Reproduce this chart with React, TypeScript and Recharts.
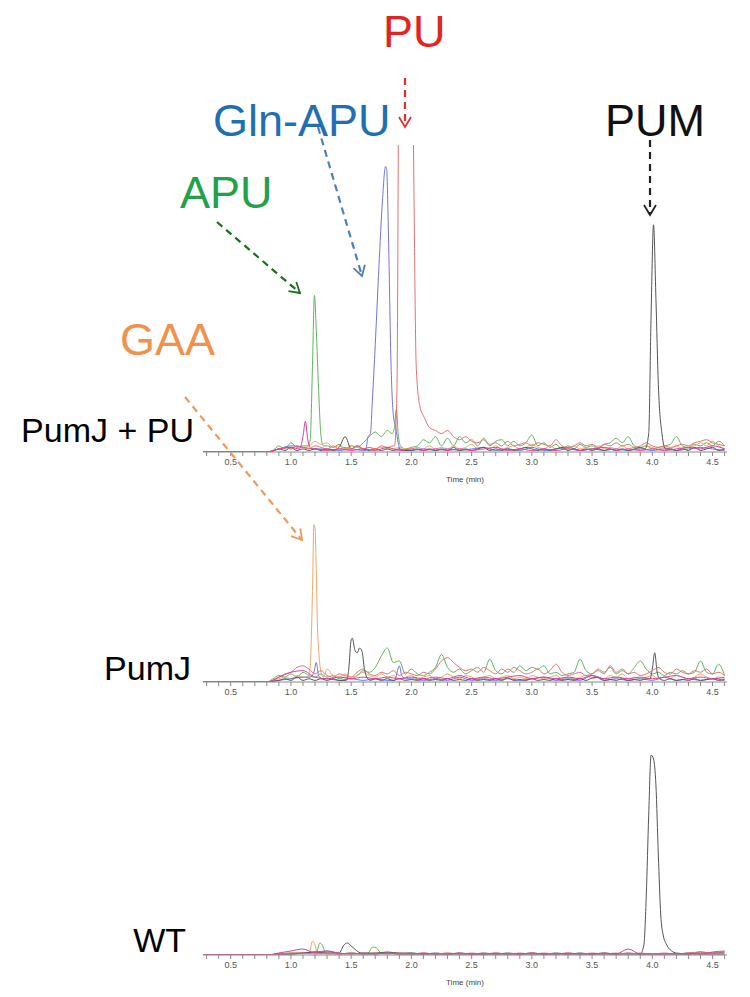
import { Line, LineChart, XAxis, YAxis } from "recharts";

// sampling grids (min)
const TIME_A = [
  0.27, 0.8, 0.85, 0.9, 0.95, 1.0, 1.05, 1.1, 1.15, 1.2,
  1.25, 1.3, 1.35, 1.4, 1.45, 1.5, 1.55, 1.6, 1.65, 1.7,
  1.75, 1.8, 1.85, 1.9, 1.95, 2.0, 2.05, 2.1, 2.15, 2.2,
  2.25, 2.3, 2.35, 2.4, 2.45, 2.5, 2.55, 2.6, 2.65, 2.7,
  2.75, 2.8, 2.85, 2.9, 2.95, 3.0, 3.05, 3.1, 3.15, 3.2,
  3.25, 3.3, 3.35, 3.4, 3.45, 3.5, 3.55, 3.6, 3.65, 3.7,
  3.75, 3.8, 3.85, 3.9, 3.95, 4.0, 4.05, 4.1, 4.15, 4.2,
  4.25, 4.3, 4.35, 4.4, 4.45, 4.5, 4.55, 4.6,
];
const TIME_B = [
  0.27, 0.8, 0.9, 1.0, 1.1, 1.2, 1.3, 1.4, 1.5, 1.6,
  1.7, 1.8, 1.9, 2.0, 2.1, 2.2, 2.3, 2.4, 2.5, 2.6,
  2.7, 2.8, 2.9, 3.0, 3.1, 3.2, 3.3, 3.4, 3.5, 3.6,
  3.7, 3.8, 3.9, 4.0, 4.1, 4.2, 4.3, 4.4, 4.5, 4.6,
];
const TICKS = [
  0.3, 0.4, 0.5, 0.6, 0.7, 0.8, 0.9, 1.0, 1.1, 1.2, 1.3, 1.4, 1.5, 1.6, 1.7,
  1.8, 1.9, 2.0, 2.1, 2.2, 2.3, 2.4, 2.5, 2.6, 2.7, 2.8, 2.9, 3.0, 3.1, 3.2,
  3.3, 3.4, 3.5, 3.6, 3.7, 3.8, 3.9, 4.0, 4.1, 4.2, 4.3, 4.4, 4.5, 4.6,
];

type Peak = { t: number[]; v: number[] };

// ---- PumJ + PU ----
const P1_GREEN = [
  0, 0, 0.5, 2, 1, 3, 1.5, 2, 2, 2,
  2, 2, 1.5, 2.5, 1, 2, 1.5, 3, 5, 6.5,
  5, 7, 8, 2, 1, 1.5, 2, 4, 3, 5,
  2, 4.5, 2, 5, 3, 4, 2, 4.5, 2, 3.5,
  4, 2, 3.5, 2, 3, 5.5, 2, 3, 1.5, 2.5,
  1, 2, 1, 2.5, 1.5, 2, 1, 2.5, 3, 4.5,
  3, 5, 2, 1.5, 2, 1, 1.5, 2, 2.5, 5,
  2, 1.5, 2.5, 2, 3, 2, 3.5, 2,
];
const P1_GREEN_PEAKS: Peak[] = [
  { t: [1.14, 1.16, 1.18, 1.195, 1.21, 1.23, 1.25, 1.27], v: [2, 4, 30, 51, 40, 20, 5, 2] },
  { t: [1.84, 1.86, 1.875, 1.89, 1.91], v: [6, 8, 14, 6, 2] },
];
const P1_RED = [
  0, 0, 0.5, 1, 1.5, 1, 2, 1.5, 1, 2,
  1.5, 1, 2, 1, 1.5, 1, 2, 1, 1.5, 1,
  2, 1.5, 2, 2, 2, 2, 2, 2, 2, 7,
  6, 7, 5, 4, 5, 3.5, 3, 4, 2.5, 3,
  2, 3.5, 2, 2.5, 3, 2, 3, 2.5, 2, 4,
  2, 1.5, 2, 3, 2, 2.5, 1.5, 2.5, 2, 3,
  2, 2.5, 1.5, 2, 3, 2, 1.5, 2, 1.5, 2,
  2.5, 2, 3, 3.5, 4, 3, 2.5, 2,
];
const P1_RED_PEAKS: Peak[] = [
  {
    t: [1.86, 1.88, 1.895, 1.91, 1.94, 1.97, 2.0, 2.02, 2.04, 2.07, 2.11, 2.15],
    v: [2, 20, 130, 220, 260, 240, 170, 90, 28, 15, 11, 8],
  },
];
const P1_BLACK = [
  0, 0, 0.3, 1, 0.5, 1.5, 0.5, 1, 0.5, 1,
  0.5, 1, 0.5, 1.5, 5, 1, 2, 1, 0.5, 1,
  0.5, 1, 0.5, 1, 0.5, 0.5, 1, 0.5, 1, 0.5,
  1, 0.5, 1.5, 0.5, 1, 0.5, 1, 1.5, 0.5, 1,
  0.5, 1, 0.5, 1, 1.5, 1, 0.5, 1, 0.5, 1,
  1.5, 0.5, 1, 0.5, 1, 0.5, 1, 0.5, 1, 0.5,
  1, 0.5, 1, 1.5, 1, 1, 1, 1, 1, 0.5,
  1, 0.5, 1.5, 0.5, 1, 1.5, 0.5, 1,
];
const P1_BLACK_PEAKS: Peak[] = [
  { t: [3.94, 3.97, 3.99, 4.01, 4.03, 4.05, 4.08, 4.11], v: [1, 6, 45, 74, 50, 22, 6, 1] },
];
const P1_ORANGE = [
  0, 0, 0.5, 1, 1.5, 1, 2, 1.5, 2, 3.5,
  2.5, 3, 1.5, 2, 1, 2, 1.5, 1, 1.5, 1,
  1.5, 1, 1, 1.5, 1, 1, 1.5, 1, 2, 1,
  1.5, 1, 2, 1, 1.5, 2.5, 1, 1.5, 1, 2,
  1, 1.5, 2, 1, 1.5, 2.5, 1.5, 1, 2, 1,
  1.5, 1, 2, 1, 1.5, 1, 2, 1, 1.5, 1,
  2, 1, 1.5, 1, 2, 1.5, 1, 1.5, 1, 2,
  1, 1.5, 2, 3, 2, 3.5, 2, 1,
];
const P1_BLUE = [
  0, 0, 1, 2, 1.5, 1, 1, 0.5, 1, 0.5,
  2, 3, 2, 0.5, 1, 0.5, 1, 0.5, 1, 1.5,
  0.5, 1, 0.5, 1.5, 0.5, 1, 1.5, 0.5, 1, 0.5,
  1, 0.5, 1, 0.5, 1, 0.5, 1, 1.5, 1, 0.5,
];
const P1_BLUE_PEAKS: Peak[] = [
  {
    t: [1.62, 1.64, 1.66, 1.675, 1.7, 1.73, 1.76, 1.785, 1.795, 1.81, 1.83, 1.85, 1.87, 1.89, 1.91],
    v: [0.5, 5, 6, 16, 35, 60, 82, 93, 92, 70, 30, 12, 8, 3, 0.5],
  },
];
const P1_MAGENTA = [
  0, 0, 1, 1.5, 3, 1, 0.5, 1, 0.5, 1,
  0.5, 1.5, 0.5, 1, 0.5, 1, 0.5, 1, 0.5, 1,
  1.5, 0.5, 1, 0.5, 1, 0.5, 1, 0.5, 1, 1.5,
  0.5, 1, 0.5, 1, 0.5, 1, 1.5, 1, 2, 1,
];
const P1_MAGENTA_PEAKS: Peak[] = [
  { t: [1.07, 1.1, 1.12, 1.14, 1.17], v: [1, 5, 10, 4, 1] },
];

// ---- PumJ ----
const P2_GREEN = [
  0, 0, 2, 4, 3, 5, 3, 6, 4, 3,
  5, 3, 4, 2, 3, 2, 4, 7, 6, 9,
  16, 21, 12, 13, 5, 8, 5, 4, 6, 9,
  17, 9, 6, 8, 5, 7, 9, 6, 14, 7,
  5, 8, 6, 10, 7, 9, 8, 10, 5, 6,
  4, 5, 6, 14, 7, 5, 8, 6, 9, 5,
  7, 5, 9, 13, 8, 5, 6, 4, 6, 5,
  7, 5, 6, 13, 6, 5, 11, 4,
];
const P2_RED = [
  0, 0, 1, 3, 5, 6, 9, 10, 8, 5,
  7, 4, 3, 5, 4, 3, 6, 8, 5, 4,
  6, 5, 7, 4, 6, 5, 4, 6, 5, 8,
  13, 15, 12, 9, 7, 8, 6, 9, 7, 5,
  8, 6, 9, 7, 5, 6, 8, 5, 7, 11,
  6, 4, 5, 6, 4, 5, 7, 5, 10, 6,
  8, 5, 6, 4, 5, 7, 9, 6, 5, 8,
  6, 5, 7, 6, 8, 5, 6, 4,
];
const P2_BLACK = [
  0, 0, 0.5, 1, 2, 1, 3, 1, 2, 1,
  2, 1, 2, 1, 1, 1, 1, 1, 1, 2,
  1, 2, 1, 2, 1, 1.5, 1, 2, 1, 1.5,
  1, 2, 1, 1.5, 1, 2, 1, 1.5, 1, 2,
  1, 2.5, 1, 1.5, 1, 2, 1, 1.5, 1, 2,
  1, 1.5, 1, 2, 1, 2.5, 3, 1, 1.5, 1,
  2, 1, 1.5, 1, 2, 1, 1, 1, 2, 1,
  1.5, 1, 2, 1, 1.5, 2, 1, 1.5,
];
const P2_BLACK_PEAKS: Peak[] = [
  { t: [1.46, 1.48, 1.5, 1.51, 1.53, 1.55, 1.57, 1.59, 1.61, 1.63, 1.66], v: [1, 8, 26, 27, 20, 18, 21, 19, 8, 3, 1] },
  { t: [3.98, 4.0, 4.02, 4.04, 4.06], v: [2, 8, 18, 6, 2] },
];
const P2_ORANGE = [
  0, 0, 1, 2, 3, 2, 4, 3, 3, 3,
  3, 8, 4, 3, 5, 3, 4, 6, 4, 3,
  5, 3, 4, 2, 3, 4, 2, 3, 4, 2,
  3, 5, 3, 2, 4, 3, 2, 3, 4, 2,
  3, 4, 2, 3, 2, 4, 3, 2, 3, 4,
  2, 3, 2, 3, 4, 2, 3, 2, 4, 3,
  5, 2, 3, 2, 3, 4, 2, 3, 2, 4,
  3, 2, 3, 5, 3, 2, 3, 2,
];
const P2_ORANGE_PEAKS: Peak[] = [
  { t: [1.14, 1.16, 1.18, 1.19, 1.2, 1.21, 1.22, 1.23, 1.25, 1.27], v: [3, 10, 60, 97, 95, 70, 35, 20, 6, 3] },
];
const P2_BLUE = [
  0, 0, 1, 2, 3, 3, 2, 1, 2, 1,
  2, 1, 10, 2, 1, 2, 1, 3, 1, 2,
  1, 2, 1, 2, 3, 1, 2, 1, 4, 1,
  2, 1, 2, 1, 3, 1, 2, 1, 2, 1,
];
const P2_BLUE_PEAKS: Peak[] = [
  { t: [1.16, 1.19, 1.21, 1.23, 1.26], v: [3, 6, 12, 4, 2] },
  { t: [1.86, 1.9, 1.92, 1.95], v: [1, 10, 4, 2] },
];
const P2_MAGENTA = [
  0, 0, 3, 6, 7, 3, 2, 3, 2, 3,
  2, 3, 2, 3, 2, 3, 2, 4, 2, 3,
  2, 3, 4, 2, 3, 2, 3, 2, 4, 2,
  3, 2, 3, 2, 3, 4, 2, 3, 2, 3,
];

// ---- WT ----
const P3_BLACK = [
  0, 0, 0.5, 0.5, 1, 1.5, 1, 1, 1, 1,
  1, 1.5, 1, 1, 0.5, 1, 0.5, 1, 0.5, 1,
  0.5, 1, 0.5, 1, 0.5, 1, 0.5, 1, 0.5, 1,
  0.5, 1, 0.5, 0.5, 0.5, 1, 0.5, 1.5, 1, 1.5,
];
const P3_BLACK_PEAKS: Peak[] = [
  { t: [1.4, 1.44, 1.47, 1.5, 1.53, 1.56, 1.59], v: [1, 5, 6, 4.5, 3, 1.5, 1] },
  {
    t: [3.9, 3.93, 3.95, 3.97, 3.99, 4.01, 4.03, 4.05, 4.07, 4.09, 4.12, 4.16, 4.2],
    v: [0.5, 5, 30, 70, 100, 98, 85, 50, 20, 10, 5, 2, 1],
  },
];
const P3_GREEN = [
  0, 0, 0.5, 1, 1, 1.5, 1, 0.5, 1, 0.5,
  4, 1, 0.5, 1, 0.5, 0.5, 0.5, 0.5, 0.5, 0.5,
  0.5, 0.5, 0.5, 0.5, 0.5, 0.5, 0.5, 0.5, 0.5, 0.5,
  0.5, 0.5, 0.5, 0.5, 0.5, 0.5, 0.5, 0.5, 0.5, 0.5,
];
const P3_GREEN_PEAKS: Peak[] = [
  { t: [1.21, 1.24, 1.26, 1.29], v: [1, 6, 5, 1] },
  { t: [1.64, 1.68, 1.71, 1.75], v: [1, 4, 3.5, 1] },
];
const P3_ORANGE = [
  0, 0, 0.5, 0.5, 1, 1, 0.5, 0.5, 0.5, 0.5,
  0.5, 1, 0.5, 0.5, 0.5, 0.5, 1, 0.5, 0.5, 0.5,
  0.5, 0.5, 0.5, 1, 0.5, 0.5, 0.5, 0.5, 0.5, 0.5,
  0.5, 0.5, 0.5, 0.5, 0.5, 0.5, 1, 0.5, 0.5, 0.5,
];
const P3_ORANGE_PEAKS: Peak[] = [
  { t: [1.15, 1.18, 1.2, 1.22], v: [1, 7, 5, 1] },
];
const P3_MAGENTA = [
  0, 0, 1, 2, 3, 1, 2, 1, 0.5, 1,
  0.5, 1, 0.5, 0.5, 1, 0.5, 0.5, 1, 0.5, 0.5,
  1, 0.5, 0.5, 1, 0.5, 0.5, 1, 0.5, 0.5, 1,
  0.5, 3, 0.5, 0.5, 0.5, 0.5, 1, 0.5, 1.5, 2,
];
const P3_RED = [
  0, 0, 0.5, 1, 1, 0.5, 1, 0.5, 1, 0.5,
  1, 0.5, 1, 0.5, 1, 0.5, 1, 0.5, 1, 0.5,
  1, 0.5, 1, 0.5, 1, 0.5, 1, 0.5, 1, 0.5,
  1, 0.5, 1, 0.5, 1, 0.5, 1, 1.5, 1, 1,
];
const P3_BLUE = [
  0, 0, 0.5, 0.5, 1, 1.5, 2, 0.5, 1, 0.5,
  0.5, 1, 0.5, 0.5, 0.5, 0.5, 0.5, 0.5, 0.5, 0.5,
  0.5, 0.5, 0.5, 0.5, 0.5, 0.5, 0.5, 0.5, 0.5, 0.5,
  0.5, 0.5, 0.5, 0.5, 0.5, 0.5, 0.5, 0.5, 0.5, 0.5,
];

const C = {
  black: "#555",
  red: "#e57272",
  blue: "#7474dc",
  green: "#5fb45f",
  orange: "#f2a66a",
  magenta: "#d8409e",
};
const FONT = "'Liberation Sans', Arial, sans-serif";

type Pt = { t: number; v: number };

// grid samples, with the finer peak samples spliced in over their range
function series(times: number[], values: number[], peaks: Peak[] = []): Pt[] {
  const inPeak = (t: number) =>
    peaks.some((p) => t >= p.t[0] && t <= p.t[p.t.length - 1]);
  const pts: Pt[] = [];
  times.forEach((t, i) => {
    if (!inPeak(t)) pts.push({ t, v: values[i] });
  });
  peaks.forEach((p) => p.t.forEach((t, i) => pts.push({ t, v: p.v[i] })));
  return pts.sort((a, b) => a.t - b.t);
}

type Trace = { key: string; color: string; data: Pt[] };

const PANELS: { top: number; height: number; timeLabel: boolean; traces: Trace[] }[] = [
  {
    top: 130,
    height: 360,
    timeLabel: true,
    traces: [
      { key: "green", color: C.green, data: series(TIME_A, P1_GREEN, P1_GREEN_PEAKS) },
      { key: "orange", color: C.orange, data: series(TIME_A, P1_ORANGE) },
      { key: "blue", color: C.blue, data: series(TIME_B, P1_BLUE, P1_BLUE_PEAKS) },
      { key: "black", color: C.black, data: series(TIME_A, P1_BLACK, P1_BLACK_PEAKS) },
      { key: "red", color: C.red, data: series(TIME_A, P1_RED, P1_RED_PEAKS) },
      { key: "magenta", color: C.magenta, data: series(TIME_B, P1_MAGENTA, P1_MAGENTA_PEAKS) },
    ],
  },
  {
    top: 505,
    height: 215,
    timeLabel: false,
    traces: [
      { key: "green", color: C.green, data: series(TIME_A, P2_GREEN) },
      { key: "orange", color: C.orange, data: series(TIME_A, P2_ORANGE, P2_ORANGE_PEAKS) },
      { key: "blue", color: C.blue, data: series(TIME_B, P2_BLUE, P2_BLUE_PEAKS) },
      { key: "black", color: C.black, data: series(TIME_A, P2_BLACK, P2_BLACK_PEAKS) },
      { key: "red", color: C.red, data: series(TIME_A, P2_RED) },
      { key: "magenta", color: C.magenta, data: series(TIME_B, P2_MAGENTA) },
    ],
  },
  {
    top: 740,
    height: 253,
    timeLabel: true,
    traces: [
      { key: "green", color: C.green, data: series(TIME_B, P3_GREEN, P3_GREEN_PEAKS) },
      { key: "orange", color: C.orange, data: series(TIME_B, P3_ORANGE, P3_ORANGE_PEAKS) },
      { key: "blue", color: C.blue, data: series(TIME_B, P3_BLUE) },
      { key: "black", color: C.black, data: series(TIME_B, P3_BLACK, P3_BLACK_PEAKS) },
      { key: "red", color: C.red, data: series(TIME_B, P3_RED) },
      { key: "magenta", color: C.magenta, data: series(TIME_B, P3_MAGENTA) },
    ],
  },
];

const fmtTick = (v: number) => (Math.round(v * 10) % 5 === 0 ? v.toFixed(1) : "");

function Chromatogram({ top, height, timeLabel, traces }: (typeof PANELS)[number]) {
  return (
    <div style={{ position: "absolute", left: 0, top }}>
      <LineChart width={750} height={height} margin={{ top: 15, right: 23, bottom: 0, left: 203 }}>
        <XAxis
          type="number"
          dataKey="t"
          domain={[0.27, 4.62]}
          allowDataOverflow
          ticks={TICKS}
          interval={0}
          tickFormatter={fmtTick}
          tickSize={4}
          tickMargin={3}
          height={38}
          stroke="#8a8a8a"
          tick={{ fontSize: 9, fill: "#555", fontFamily: FONT }}
          label={
            timeLabel
              ? { value: "Time (min)", position: "insideBottom", offset: 8, fontSize: 8, fill: "#444", fontFamily: FONT }
              : undefined
          }
        />
        <YAxis hide type="number" domain={[0, 100]} allowDataOverflow />
        {traces.map((tr) => (
          <Line
            key={tr.key}
            data={tr.data}
            dataKey="v"
            type="monotone"
            stroke={tr.color}
            strokeWidth={1}
            dot={false}
            isAnimationActive={false}
          />
        ))}
      </LineChart>
    </div>
  );
}

const ARROWS = [
  { id: "pu", color: "#e0302a", x1: 405, y1: 78, x2: 405, y2: 127 },
  { id: "gln", color: "#4f7fb5", x1: 318, y1: 127, x2: 362, y2: 276 },
  { id: "pum", color: "#222", x1: 650, y1: 140, x2: 650, y2: 215 },
  { id: "apu", color: "#1e6e1e", x1: 217, y1: 222, x2: 300, y2: 293 },
  { id: "gaa", color: "#ee9a5a", x1: 185, y1: 397, x2: 302, y2: 540 },
];

const NAMES = [
  { text: "PU", color: "#e3231f", x: 383, y: 47 },
  { text: "Gln-APU", color: "#1f6fb5", x: 213, y: 136 },
  { text: "PUM", color: "#111", x: 605, y: 136 },
  { text: "APU", color: "#22a04b", x: 180, y: 208 },
  { text: "GAA", color: "#f0924c", x: 120, y: 355 },
];

const SAMPLES = [
  { text: "PumJ + PU", x: 194, y: 442 },
  { text: "PumJ", x: 191, y: 680 },
  { text: "WT", x: 186, y: 952 },
];

export default function App() {
  return (
    <div style={{ position: "absolute", left: 0, top: 0, width: 750, height: 997, background: "#fff", overflow: "hidden" }}>
      {PANELS.map((p, i) => (
        <Chromatogram key={i} {...p} />
      ))}
      <svg width={750} height={997} style={{ position: "absolute", left: 0, top: 0, pointerEvents: "none" }}>
        <defs>
          {ARROWS.map((a) => (
            <marker
              key={a.id}
              id={`head-${a.id}`}
              markerWidth={14}
              markerHeight={14}
              refX={11}
              refY={7}
              orient="auto"
              markerUnits="userSpaceOnUse"
            >
              <path d="M1,1 L11,7 L1,13" fill="none" stroke={a.color} strokeWidth={1.8} />
            </marker>
          ))}
        </defs>
        {ARROWS.map((a) => (
          <line
            key={a.id}
            x1={a.x1}
            y1={a.y1}
            x2={a.x2}
            y2={a.y2}
            stroke={a.color}
            strokeWidth={2.2}
            strokeDasharray="7 5"
            markerEnd={`url(#head-${a.id})`}
          />
        ))}
        {NAMES.map((n) => (
          <text key={n.text} x={n.x} y={n.y} fill={n.color} fontSize={45} fontFamily={FONT}>
            {n.text}
          </text>
        ))}
        {SAMPLES.map((s) => (
          <text key={s.text} x={s.x} y={s.y} textAnchor="end" fill="#000" fontSize={34} fontFamily={FONT}>
            {s.text}
          </text>
        ))}
      </svg>
    </div>
  );
}
